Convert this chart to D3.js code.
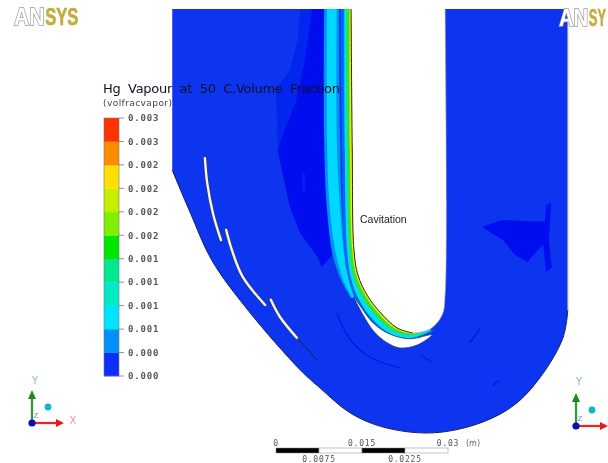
<!DOCTYPE html>
<html><head><meta charset="utf-8">
<script src="https://cdn.jsdelivr.net/npm/d3@7"></script>
<style>html,body{margin:0;background:#fff}svg{display:block}</style></head>
<body><svg id="c" width="608" height="463"></svg>
<script>
// legend
const legendColors=["#0a2ff8","#0090f8","#00e5ff","#00eac8","#00e890","#00e600","#80f000","#c4f000","#ffe000","#ff8c00","#ff3300"];
const legendTicks=["0.000","0.000","0.001","0.001","0.001","0.001","0.002","0.002","0.002","0.002","0.003","0.003"];
// geometry in mm
const topY=74.1;
const outerCurve=[[-18.1,46.0],[-15.0,38.7],[-11.2,30.3],[-4.9,21.6],[4.2,11.2],[7.7,8.0],[12.9,3.7],[18.7,1.2],[27.4,0.2],[36.1,2.1],[42.0,5.4],[46.6,10.6],[50.1,16.9],[50.9,21.6]];
const outerRightX=50.9, outerLeftX=-18.1;
const wall=[[13.1,74.1],[13.3,49.5],[13.6,32.1],[14.3,27.7],[15.9,24.2],[18.1,21.3],[21.1,18.5],[23.9,17.6],[26.9,18.3],[29.0,20.8],[29.5,24.2],[29.5,74.1]];
const crescent=[[13.6,23.9],[16.9,19.4],[19.9,17.4],[23.4,16.6],[27.2,17.3],[24.6,15.5],[21.6,15.0],[19.4,15.9],[16.9,18.1]];
const darkMain=[[4.2,74.1],[8.5,74.1],[8.9,39.1],[9.8,31.2],[8.0,29.1],[7.2,30.9],[4.2,35.1],[2.4,39.6],[0.3,49.5],[0,60.0],[2.4,63.5],[3.8,68.7]];
const darkCore=[[6.3,74.1],[8.5,74.1],[8.9,39.1],[9.8,31.2],[8.0,29.1],[7.2,30.9],[4.2,35.1],[2.4,39.6],[0.3,49.5],[1.5,53.0],[3.5,58.0],[5.0,65.0]];
const lightSpots=[[[4.6,45.5],[5.0,45.5],[5.1,42.5],[4.7,42.2]]];
const darkRight=[[35.9,36.1],[39.4,37.3],[46.9,37.0],[47.1,39.9],[48.0,40.3],[47.6,33.8],[48.1,29.0],[47.1,28.3],[46.6,33.0],[43.8,30.0],[41.7,31.2],[39.6,33.8]];
const darkStreaks=[
 [[10.6,21.1],[13.0,16.4],[16.4,13.4],[21.6,11.5]],
 [[25.1,13.8],[27.4,12.4]],
 [[33.8,15.9],[35.6,18.4]],
 [[37.8,8.5],[39.0,9.4]]];
const leftMidL=[[8.4,74.1],[8.4,51.3],[8.9,39.1],[9.9,31.2],[11.3,26.9],[13.1,23.7]];
const leftMidR=[[11.0,74.1],[11.2,51.3],[11.5,39.1],[12.2,31.2],[13.1,26.9],[13.8,23.9]];
const leftCyanL=[[8.9,74.1],[8.9,51.3],[9.4,39.1],[10.5,31.2],[11.7,26.9],[13.3,23.7]];
const leftCyanR=[[10.6,74.1],[10.6,51.3],[11.2,39.1],[11.9,31.2],[12.7,26.9],[13.6,23.9]];
const leftGreen=[[12.0,30.0],[13.1,26.7],[14.0,23.9]];
const wallMid=[[11.3,74.1],[11.5,49.5],[11.9,32.1],[12.7,26.9],[14.1,23.0],[16.7,19.5],[19.9,17.1],[23.4,16.4],[27.6,18.0]];
const wallCyan=[[11.9,74.1],[12.0,49.5],[12.4,32.1],[13.1,27.0],[14.5,23.4],[16.9,19.9],[20.1,17.4],[23.5,16.7],[27.0,18.0]];
const wallGreen=[[12.2,74.1],[12.4,49.5],[12.8,32.1],[13.5,27.5],[15.0,23.9],[17.4,20.6],[20.5,17.9],[23.8,17.2],[26.7,18.1]];
const wallYellow=[[12.8,74.1],[12.9,49.5],[13.3,32.1],[14.0,27.7],[15.6,24.1],[17.8,21.1],[20.9,18.3],[23.9,17.5],[26.5,18.2]];
const blades=[
 [[-12.4,48.1],[-12.0,43.8],[-11.0,38.5],[-9.6,33.8]],
 [[-8.7,35.6],[-7.7,32.1],[-5.8,27.4],[-1.9,22.5]],
 [[-0.9,23.4],[0.7,20.4],[3.7,16.7]]];
const bladeTail=[[3.7,16.7],[7.2,12.9]];
const scaleStops=[0,0.0075,0.015,0.0225,0.03];
const scaleTop=["0","0.015","0.03"];
const scaleBottom=["0.0075","0.0225"];

const svg=d3.select("#c");
const root=svg.append("g").attr("filter","url(#soft)");
const defs=svg.append("defs");
defs.append("filter").attr("id","soft").attr("x","-5%").attr("y","-5%").attr("width","110%").attr("height","110%")
  .append("feGaussianBlur").attr("stdDeviation",0.5);

const x=d3.scaleLinear().domain([0,30]).range([276,448]);
const y=d3.scaleLinear().domain([0,topY]).range([434,9]);
const smooth=d3.line().x(d=>x(d[0])).y(d=>y(d[1])).curve(d3.curveCatmullRom.alpha(0.5));
const closed=d3.line().x(d=>x(d[0])).y(d=>y(d[1])).curve(d3.curveCatmullRomClosed.alpha(0.5));
const poly=d3.line().x(d=>x(d[0])).y(d=>y(d[1]));
const BASE="#0a35f0", MIDDARK="#0626f0", DARK="#0010ee";

const outerD=`M${x(outerLeftX)},${y(topY)}L${x(outerLeftX)},${y(outerCurve[0][1])}`+
  smooth(outerCurve).replace(/^M/,"L")+`L${x(outerRightX)},${y(topY)}Z`;
defs.append("clipPath").attr("id","dom").append("path").attr("d",outerD);

// domain
root.append("path").attr("d",outerD).attr("fill",BASE);
const inner=root.append("g").attr("clip-path","url(#dom)");
inner.append("path").attr("d",poly(darkMain)).attr("fill",MIDDARK);
inner.append("path").attr("d",poly(darkCore)).attr("fill",DARK);
lightSpots.forEach(s=>inner.append("path").attr("d",poly(s)).attr("fill",MIDDARK));
inner.append("path").attr("d",poly(darkRight)).attr("fill",DARK);
darkStreaks.forEach(s=>inner.append("path").attr("d",smooth(s)).attr("fill","none").attr("stroke",DARK).attr("stroke-width",1.1));

const ribbon=(a,b)=>smooth(a)+smooth(b.slice().reverse()).replace(/^M/,"L")+"Z";
inner.append("path").attr("d",ribbon(leftMidL,leftMidR)).attr("fill","#0090f8");
inner.append("path").attr("d",ribbon(leftCyanL,leftCyanR)).attr("fill","#00d8ff");
inner.append("path").attr("d",smooth(leftGreen)).attr("fill","none").attr("stroke","#20a060").attr("stroke-width",1);

[[wallMid,"#0068f4"],[wallCyan,"#00e0f0"],[wallGreen,"#30e040"],[wallYellow,"#f0e800"]].forEach(([edge,c])=>{
  inner.append("path").attr("d",ribbon(edge,wall.slice(0,9))).attr("fill",c);
});

// blades
blades.forEach(b=>{
  inner.append("path").attr("d",smooth(b)).attr("fill","none").attr("stroke","#445").attr("stroke-width",3.6).attr("stroke-linecap","round");
  inner.append("path").attr("d",smooth(b)).attr("fill","none").attr("stroke","#f6f6f6").attr("stroke-width",2.3).attr("stroke-linecap","round");
});
inner.append("path").attr("d",poly(bladeTail)).attr("fill","none").attr("stroke","#223").attr("stroke-width",1);

// white solids
root.append("path").attr("d",closed(crescent)).attr("fill","#fff").attr("stroke","#223355").attr("stroke-width",0.7);
root.append("path").attr("d",smooth(wall)+"Z").attr("fill","#fff");
root.append("path").attr("d",smooth(wall.slice(0,8))).attr("fill","none").attr("stroke","#2a2a10").attr("stroke-width",1);
root.append("path").attr("d",smooth(wall.slice(7))).attr("fill","none").attr("stroke","#99a").attr("stroke-width",0.6);
root.append("path").attr("d",smooth(outerCurve)).attr("fill","none").attr("stroke","#1a1f60").attr("stroke-width",1);
root.append("line").attr("x1",x(outerRightX)).attr("x2",x(outerRightX)).attr("y1",y(topY)).attr("y2",y(21.6)).attr("stroke","#aab").attr("stroke-width",1);

// legend
const lg=d3.scaleLinear().domain([0,legendColors.length]).range([376,118]);
root.selectAll("rect.lg").data(legendColors).join("rect").attr("class","lg")
  .attr("x",104).attr("width",15).attr("y",(d,i)=>lg(i+1)).attr("height",(d,i)=>lg(i)-lg(i+1)+0.3).attr("fill",d=>d);
root.append("rect").attr("x",104).attr("width",15).attr("y",lg(11)).attr("height",lg(0)-lg(11)).attr("fill","none").attr("stroke","#777").attr("stroke-width",0.6);
legendTicks.forEach((t,i)=>{
  root.append("line").attr("x1",119).attr("x2",124).attr("y1",lg(i)).attr("y2",lg(i)).attr("stroke","#777").attr("stroke-width",0.8);
  root.append("text").attr("x",128).attr("y",lg(i)+3.3).text(t).attr("font-family","DejaVu Sans Mono").attr("font-size",9).attr("font-weight","bold")
   .attr("letter-spacing",0.85).attr("fill","#555");
});
root.append("text").attr("x",103).attr("y",93).text("Hg  Vapour  at  50  C.Volume  Fraction").style("white-space","pre")
  .attr("font-family","DejaVu Sans").attr("font-size",13).attr("textLength",237).attr("lengthAdjust","spacing").attr("fill","#101028");
root.append("text").attr("x",103).attr("y",106).text("(volfracvapor)").attr("font-family","DejaVu Sans").attr("font-size",9).attr("textLength",69).attr("fill","#444");
root.append("text").attr("x",360).attr("y",223).text("Cavitation").attr("font-family","Liberation Sans").attr("font-size",10.5).attr("fill","#222");

// scale bar
const sb=d3.scaleLinear().domain([0,0.03]).range([276,448]);
d3.pairs(scaleStops).forEach(([a,b],i)=>{
  root.append("rect").attr("x",sb(a)).attr("y",448).attr("width",sb(b)-sb(a)).attr("height",5)
   .attr("fill",i%2?"#fff":"#000").attr("stroke","#888").attr("stroke-width",0.5);
});
const sbText=(t,v,yy)=>root.append("text").attr("x",sb(v)).attr("y",yy).text(t).attr("text-anchor","middle")
  .attr("font-family","DejaVu Sans Mono").attr("font-size",8).attr("letter-spacing",0.8).attr("fill","#555");
[[scaleTop[0],0],[scaleTop[1],0.015],[scaleTop[2],0.03]].forEach(([t,v])=>sbText(t,v,446));
[[scaleBottom[0],0.0075],[scaleBottom[1],0.0225]].forEach(([t,v])=>sbText(t,v,462));
root.append("text").attr("x",466).attr("y",446).text("(m)").attr("font-family","DejaVu Sans").attr("font-size",8).attr("fill","#666");

// triads
function triad(ox,oy,showX,yLblX,yLblY,ballX,ballY){
  const g=root.append("g");
  g.append("line").attr("x1",ox).attr("y1",oy).attr("x2",ox).attr("y2",oy-26).attr("stroke","#2a9a2a").attr("stroke-width",2.2);
  g.append("path").attr("d",`M${ox-4},${oy-24}L${ox},${oy-33}L${ox+4},${oy-24}Z`).attr("fill","#1c8a1c");
  g.append("line").attr("x1",ox).attr("y1",oy).attr("x2",ox+25).attr("y2",oy).attr("stroke","#f02020").attr("stroke-width",2.2);
  g.append("path").attr("d",`M${ox+24},${oy-4}L${ox+32},${oy}L${ox+24},${oy+4}Z`).attr("fill","#f01818");
  g.append("circle").attr("cx",ballX).attr("cy",ballY).attr("r",3.4).attr("fill","#10b8c8");
  g.append("circle").attr("cx",ox).attr("cy",oy).attr("r",3.6).attr("fill","#0808b0");
  const lbl=(t,a,b,c,s)=>g.append("text").attr("x",a).attr("y",b).text(t).attr("text-anchor","middle").attr("font-family","DejaVu Sans").attr("font-size",s).attr("fill",c);
  lbl("Y",yLblX,yLblY,"#8cc88c",10);
  lbl("Z",ox+4,oy-5,"#7f7ff0",7);
  if(showX) lbl("X",ox+41,oy+0.5,"#f49090",10);
}
triad(32,423,true,35,384,48,407);
triad(576,426,false,579,385,592,410);

// logos: widths set by a horizontal scale so the text boxes stay true
function logo(ox,baseY,anSx,rest,restSx){
  const fs=23;
  const a=root.append("g").attr("transform",`translate(${ox},${baseY}) scale(${anSx},1)`);
  const at=a.append("text").text("AN").attr("font-family","Liberation Sans").attr("font-weight","bold")
    .attr("font-size",fs).attr("fill","#fff").attr("stroke","#999").attr("stroke-width",1.5).attr("paint-order","stroke");
  const w=at.node().getComputedTextLength()*anSx;
  const b=root.append("g").attr("transform",`translate(${ox+w+0.6},${baseY}) scale(${restSx},1)`);
  b.append("text").text(rest).attr("font-family","Liberation Sans").attr("font-weight","bold")
    .attr("font-size",fs).attr("fill","#c6ac3c").attr("stroke","#c6ac3c").attr("stroke-width",0.7);
}
logo(14,25,0.92,"SYS",0.72);
logo(559,26,0.88,"SY",0.56);
</script></body></html>
